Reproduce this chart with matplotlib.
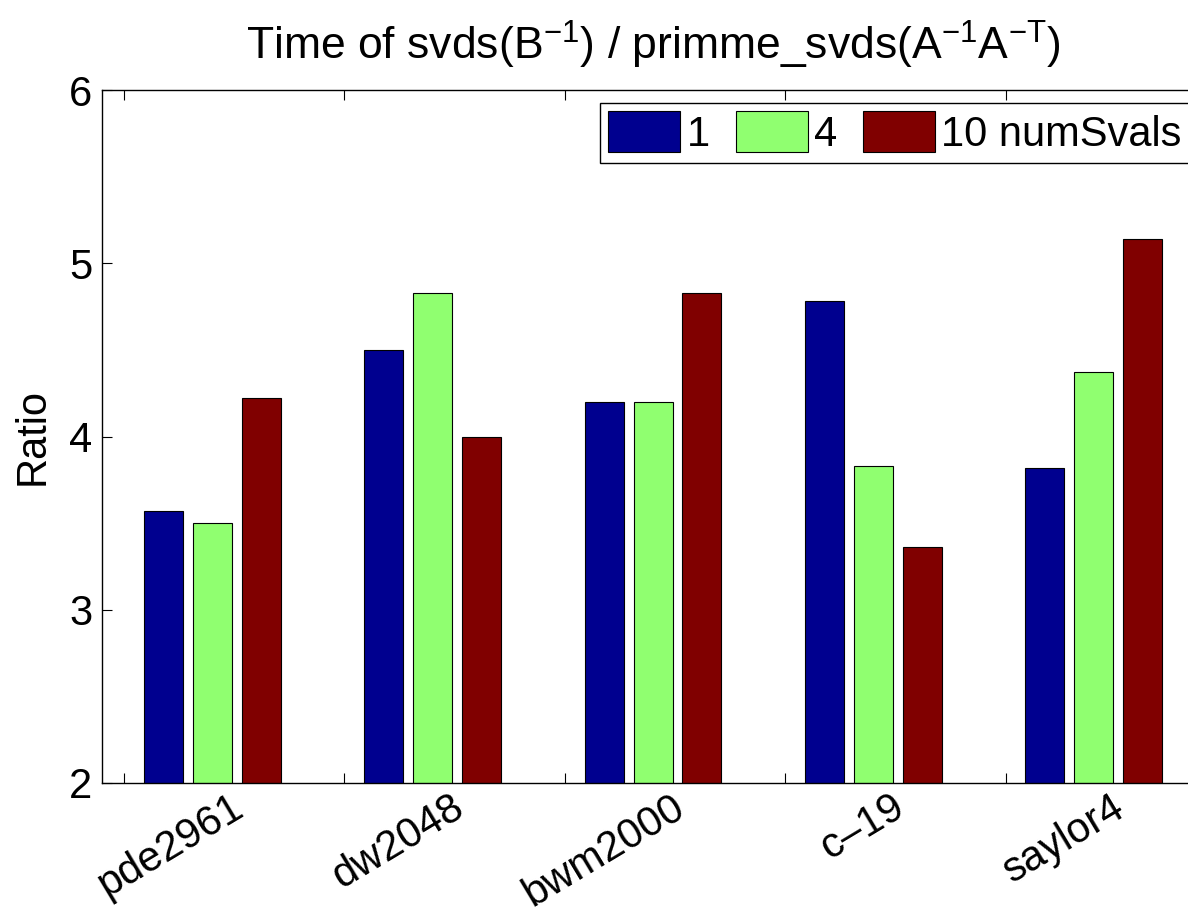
import matplotlib
matplotlib.use('Agg')
import matplotlib.pyplot as plt
import numpy as np

plt.rcParams['font.family'] = ['Liberation Sans', 'DejaVu Sans']
plt.rcParams['mathtext.fontset'] = 'custom'
plt.rcParams['mathtext.rm'] = 'Liberation Sans'

matrices = ['pde2961', 'dw2048', 'bwm2000', 'c\u201319', 'saylor4']
series_names = ['1', '4', '10 numSvals']
ratio_1 = [3.57, 4.50, 4.20, 4.78, 3.82]
ratio_4 = [3.50, 4.83, 4.20, 3.83, 4.37]
ratio_10 = [4.22, 4.00, 4.83, 3.36, 5.14]
colors = ['#00008F', '#90FF70', '#800000']

fig = plt.figure(figsize=(11.88, 9.16), dpi=100)
ax = fig.add_axes([0.0859, 0.1452, 0.9276, 0.7565])

x = np.arange(1, len(matrices) + 1)
offset = 0.222
width = 0.177
for k, vals in enumerate([ratio_1, ratio_4, ratio_10]):
    ax.bar(x + (k - 1) * offset, vals, width, color=colors[k],
           edgecolor='black', linewidth=0.8, label=series_names[k])

ax.set_xlim(0.5, 5.5)
ax.set_ylim(2, 6)
ax.set_yticks([2, 3, 4, 5, 6])
ax.set_xticks(x - 0.4)
ax.set_xticklabels([])
ax.tick_params(direction='in', length=7.5, width=0.8, labelsize=30,
               top=True, right=True, pad=7)
for s in ax.spines.values():
    s.set_linewidth(1.0)

# rotated group names
for xi, name in zip(x, matrices):
    ax.text(xi + 0.08, -0.006, name, transform=ax.get_xaxis_transform(),
            rotation=31, rotation_mode='anchor', ha='right', va='top',
            fontsize=30)

ax.set_ylabel('Ratio', fontsize=30, labelpad=12)
ax.set_title(r'Time of svds($\mathregular{B^{-1}}$) / primme_svds($\mathregular{A^{-1}A^{-T}}$)',
             fontsize=32, pad=22)

leg = ax.legend(loc='upper left', bbox_to_anchor=(0.505, 0.8876),
                bbox_transform=fig.transFigure, ncol=3, fontsize=30,
                frameon=True, fancybox=False, framealpha=1,
                handlelength=1.73, handleheight=1.13, handletextpad=0.15,
                columnspacing=0.62, borderpad=0.2, borderaxespad=0)
leg.get_frame().set_edgecolor('black')
leg.get_frame().set_linewidth(1.0)

fig.savefig('out.png', dpi=100)
